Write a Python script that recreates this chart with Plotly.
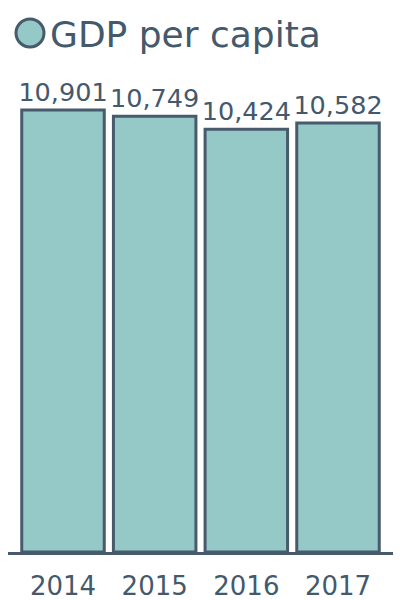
import plotly.graph_objects as go

years = ["2014", "2015", "2016", "2017"]
gdp_per_capita = [10901, 10749, 10424, 10582]
value_labels = ["10,901", "10,749", "10,424", "10,582"]
series_name = "GDP per capita"

FILL = "#95c9c8"
EDGE = "#475b6c"
TEXT = "#44596b"
FONT = "DejaVu Sans"

W, H = 400, 600
L, R, T, B = 8, 7, 80, 48
pw, ph = W - L - R, H - T - B

def px(x):
    return (x - L) / pw

def py(y):
    return (H - B - y) / ph

fig = go.Figure()
fig.add_trace(go.Bar(
    x=years, y=gdp_per_capita, text=value_labels, textposition="outside",
    textfont=dict(family=FONT, size=25.5, color=TEXT), constraintext="none",
    marker=dict(color=FILL, line=dict(color=EDGE, width=3)),
    cliponaxis=False, showlegend=False, name=series_name,
))

fig.add_shape(type="circle", xref="paper", yref="paper",
              x0=px(16), x1=px(44), y0=py(47), y1=py(19),
              fillcolor=FILL, line=dict(color=EDGE, width=3))
fig.add_annotation(text=series_name, xref="paper", yref="paper",
                   x=px(48), y=py(34), xanchor="left", yanchor="middle",
                   showarrow=False, font=dict(family=FONT, size=36, color=TEXT))

fig.update_layout(
    width=W, height=H, margin=dict(l=L, r=R, t=T, b=B, autoexpand=False),
    paper_bgcolor="white", plot_bgcolor="white",
    bargap=0.1, showlegend=False, uniformtext=dict(mode=False),
    font=dict(family=FONT, color=TEXT),
)
fig.update_xaxes(range=[-0.6, 3.6], showline=True, linecolor=EDGE, linewidth=3,
                 showgrid=False, ticks="", ticklabelstandoff=9, automargin=False,
                 tickfont=dict(family=FONT, size=26, color=TEXT))
fig.update_yaxes(range=[0, 472 / (442 / 10901)], visible=False, showgrid=False,
                 automargin=False)

fig.write_html("out.html")
